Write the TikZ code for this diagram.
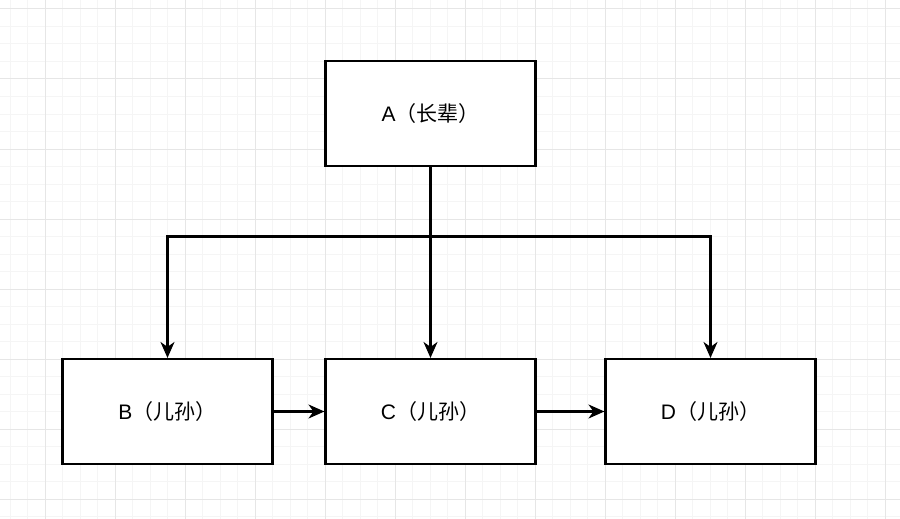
\documentclass[tikz,border=0pt]{standalone}
\usepackage{fontspec}
\setmainfont{Liberation Sans}
\newfontfamily\cjk{Noto Sans CJK SC}
\usetikzlibrary{arrows.meta}
\definecolor{gridminor}{HTML}{F5F5F5}
\definecolor{gridmajor}{HTML}{E6E6E6}
\begin{document}
\begin{tikzpicture}[x=1pt,y=-1pt,
  box/.style={draw=black, line width=2.1pt, fill=white, minimum width=210pt, minimum height=105pt, inner sep=0pt, font=\fontsize{21}{25}\selectfont},
  arr/.style={line width=2.1pt, -{Stealth[length=16pt,width=14pt,inset=5pt]}}]
\useasboundingbox (0,0) rectangle (900,519);
\fill[white] (0,0) rectangle (900,519);
% minor grid
\foreach \i in {0,...,51} {
  \draw[gridminor, line width=1pt] ({10+17.5*\i},0) -- ({10+17.5*\i},519);
}
\foreach \j in {0,...,29} {
  \draw[gridminor, line width=1pt] (0,{9+17.5*\j}) -- (900,{9+17.5*\j});
}
% major grid
\foreach \i in {0,...,12} {
  \draw[gridmajor, line width=1pt] ({45+70*\i},0) -- ({45+70*\i},519);
}
\foreach \j in {0,...,7} {
  \draw[gridmajor, line width=1pt] (0,{9+70*\j}) -- (900,{9+70*\j});
}
\node[box] (A) at (430.5,113.5) {A\cjk（长辈）};
\node[box] (B) at (167.5,411.5) {B\cjk（儿孙）};
\node[box] (C) at (430.5,411.5) {C\cjk（儿孙）};
\node[box] (D) at (710.5,411.5) {D\cjk（儿孙）};
\coordinate (j) at (430.5,236.5);
\draw[arr] (A.south) -- (j) -| (B.north);
\draw[arr] (A.south) -- (C.north);
\draw[arr] (A.south) -- (j) -| (D.north);
\draw[arr] (B.east) -- (C.west);
\draw[arr] (C.east) -- (D.west);
\end{tikzpicture}
\end{document}
